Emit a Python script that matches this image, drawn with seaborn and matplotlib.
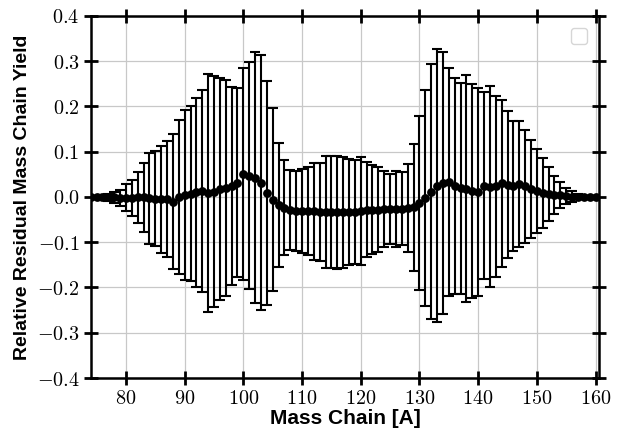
import numpy as np
import pandas as pd
import matplotlib
matplotlib.use("Agg")
import matplotlib.pyplot as plt
from matplotlib.ticker import FuncFormatter
import seaborn as sns

mass = list(range(74, 161))
residual = [
    0.000, 0.000, 0.000, -0.001, -0.001, -0.002, -0.002, -0.002, -0.001, -0.001,   # 74-83
    -0.003, -0.004, -0.005, -0.005, -0.010, 0.000, 0.004, 0.007, 0.010, 0.013,     # 84-93
    0.008, 0.012, 0.017, 0.020, 0.024, 0.032, 0.050, 0.047, 0.043, 0.032,         # 94-103
    0.009, -0.006, -0.018, -0.024, -0.029, -0.031, -0.031, -0.031, -0.032, -0.033,  # 104-113
    -0.034, -0.034, -0.034, -0.034, -0.034, -0.033, -0.031, -0.028, -0.028, -0.028,  # 114-123
    -0.027, -0.027, -0.027, -0.026, -0.024, -0.023, -0.014, -0.002, 0.012, 0.025,  # 124-133
    0.031, 0.033, 0.024, 0.019, 0.018, 0.013, 0.011, 0.025, 0.023, 0.024,          # 134-143
    0.030, 0.027, 0.025, 0.029, 0.024, 0.018, 0.013, 0.009, 0.007, 0.005,          # 144-153
    0.004, 0.002, 0.001, 0.001, 0.000, 0.000, 0.000,                               # 154-160
]
uncertainty = [
    0.001, 0.002, 0.004, 0.007, 0.012, 0.018, 0.030, 0.040, 0.057, 0.077,          # 74-83
    0.101, 0.105, 0.118, 0.128, 0.150, 0.171, 0.188, 0.193, 0.208, 0.224,          # 84-93
    0.263, 0.255, 0.245, 0.238, 0.218, 0.209, 0.234, 0.251, 0.278, 0.281,          # 94-103
    0.248, 0.202, 0.137, 0.105, 0.089, 0.089, 0.092, 0.097, 0.108, 0.109,          # 104-113
    0.124, 0.124, 0.125, 0.123, 0.117, 0.114, 0.119, 0.105, 0.098, 0.094,          # 114-123
    0.084, 0.077, 0.084, 0.081, 0.097, 0.140, 0.192, 0.238, 0.282, 0.301,          # 124-133
    0.290, 0.251, 0.239, 0.234, 0.251, 0.236, 0.230, 0.207, 0.222, 0.200,          # 134-143
    0.185, 0.162, 0.144, 0.140, 0.125, 0.109, 0.093, 0.077, 0.059, 0.042,          # 144-153
    0.029, 0.018, 0.012, 0.006, 0.003, 0.002, 0.001,                               # 154-160
]
x_ticks = [80, 90, 100, 110, 120, 130, 140, 150, 160]
y_ticks = [-0.4, -0.3, -0.2, -0.1, 0.0, 0.1, 0.2, 0.3, 0.4]

df = pd.DataFrame({"A": mass, "res": residual, "err": uncertainty})

sns.set_style("whitegrid")
plt.rcParams["mathtext.fontset"] = "cm"
plt.rcParams["font.family"] = ["Liberation Sans", "DejaVu Sans"]
plt.rcParams["text.color"] = "black"
plt.rcParams["axes.labelcolor"] = "black"

fig = plt.figure(figsize=(6.17, 4.32), dpi=100)
ax = fig.add_axes([0.147, 0.125, 0.824, 0.838])

ax.errorbar(df["A"], df["res"], yerr=df["err"], fmt="none", ecolor="black",
            elinewidth=1.5, capsize=3.8, capthick=1.5, zorder=2)
sns.scatterplot(data=df, x="A", y="res", ax=ax, color="black", s=40,
                edgecolor="black", linewidth=0, zorder=3)

ax.set_xlim(74, 160.6)
ax.set_ylim(-0.4, 0.4)
ax.set_xticks(x_ticks)
ax.set_yticks(y_ticks)
ax.xaxis.set_major_formatter(FuncFormatter(lambda v, p: r"$%d$" % v))
ax.yaxis.set_major_formatter(FuncFormatter(lambda v, p: r"$%.1f$" % (0.0 if abs(v) < 1e-9 else v)))

ax.grid(True, color="#c8c8c8", linewidth=0.9)
for s in ax.spines.values():
    s.set_color("black")
    s.set_linewidth(1.8)
ax.tick_params(axis="both", which="major", direction="inout", length=10, width=2,
               color="black", top=True, right=True, bottom=True, left=True,
               labelsize=14.5, pad=3, labelcolor="black")

ax.set_xlabel("Mass Chain [A]", fontsize=15, fontweight="bold", labelpad=1, color="black")
ax.set_ylabel("Relative Residual Mass Chain Yield", fontsize=14, fontweight="bold",
              labelpad=4, color="black")

ax.legend(handles=[], loc="upper right", frameon=True, borderpad=0.55,
          borderaxespad=0.9)

fig.savefig("out.png", dpi=100)
